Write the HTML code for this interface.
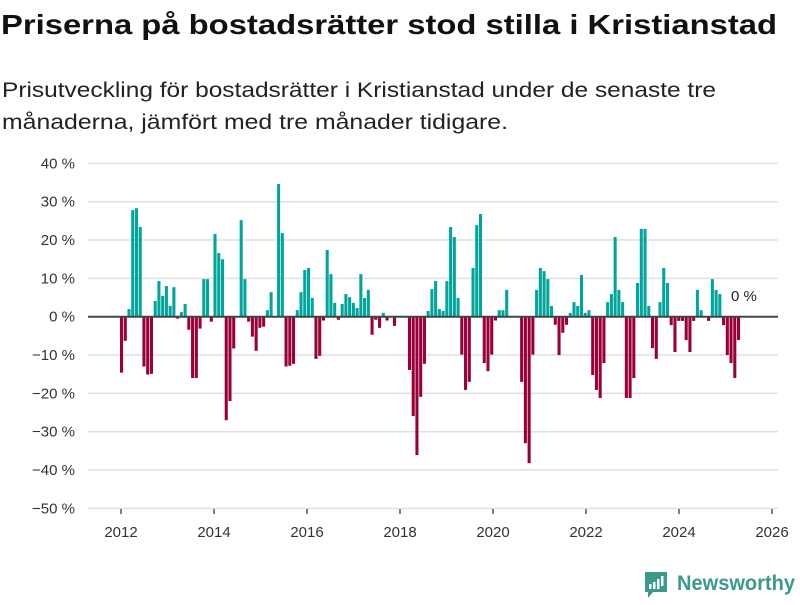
<!DOCTYPE html>
<html><head><meta charset="utf-8">
<style>
html,body{margin:0;padding:0;background:#fff;}
svg text{font-family:"Liberation Sans","DejaVu Sans",sans-serif;}
</style></head>
<body>
<svg id="chart" width="800" height="600" xmlns="http://www.w3.org/2000/svg">
<text x="1" y="34" font-size="28" font-weight="bold" fill="#111" textLength="776" lengthAdjust="spacingAndGlyphs">Priserna på bostadsrätter stod stilla i Kristianstad</text>
<text x="2" y="97" font-size="21" fill="#222" textLength="714" lengthAdjust="spacingAndGlyphs">Prisutveckling för bostadsrätter i Kristianstad under de senaste tre</text>
<text x="2" y="129" font-size="21" fill="#222" textLength="506" lengthAdjust="spacingAndGlyphs">månaderna, jämfört med tre månader tidigare.</text>
<g id="grid"></g>
<g id="yticks"></g>
<g id="xticks"></g>
<g id="bars"></g>
<line x1="88" x2="778" y1="316.7" y2="316.7" stroke="#444" stroke-width="2"/>
<text x="731" y="301" font-size="15" fill="#222">0 %</text>
<g>
<path d="M645 572 h22 v20 h-14 l-5 6 v-6 h-3 z" fill="#3a9a8c"/>
<rect x="649" y="584" width="2.5" height="5" fill="#fff"/>
<rect x="653" y="582" width="2.5" height="7" fill="#fff"/>
<rect x="657" y="579" width="2.5" height="10" fill="#fff"/>
<rect x="661" y="576" width="2.5" height="10" fill="#fff"/>
<text x="677" y="590" font-size="21" font-weight="bold" fill="#3a9a8c" textLength="118" lengthAdjust="spacingAndGlyphs">Newsworthy</text>
</g>
</svg>
<script>
const values = [-14.6,-6.3,2,27.8,28.3,23.4,-13,-15.1,-14.9,4.1,9.3,5.4,8,2.8,7.7,-0.5,1.2,3.3,-3.4,-16,-16,-3.1,9.8,9.8,-1.3,21.6,16.6,15,-27,-22,-8.3,0,25.2,9.8,-1.3,-5.2,-8.9,-2.9,-2.6,1.7,6.4,
0,34.6,21.8,-13,-12.8,-12.3,1.7,6.4,12.2,12.7,4.9,-11,-10.2,-1,17.4,11.1,3.6,-0.8,3.3,5.9,5.1,3.6,2.3,11.1,4.9,7,-4.7,-0.8,-2.9,1,-1,0,-2.4,
0,0,0,
-13.9,-25.9,-36.1,-20.9,-12.3,1.5,7.2,9.3,2,1.5,9.3,23.4,20.8,4.9,-9.9,-19.1,-17,12.7,23.9,26.8,-12.1,-14.2,-9.9,-1,1.7,1.7,7,0,0,0,-17,-33,-38.2,-9.9,7,12.7,11.9,9.8,2.8,-2.1,
-10,-4.2,-2.1,1,3.8,2.8,10.9,1,1.7,-15.2,-19.1,-21.2,-12.1,3.8,5.9,20.8,7,3.8,-21.2,-21.2,-16,8.8,22.9,22.9,2.8,-8.2,-11,3.8,12.7,8.8,-2.2,-9.2,-1.1,-1.1,-6.1,-9.2,-1.1,7,1.7,0,-1.1,9.8,7,5.9,-2.2,-10,-12.1,-16,-6.1];
const yTicks = [40,30,20,10,0,-10,-20,-30,-40,-50];
const yTickLabels = ["40 %","30 %","20 %","10 %","0 %","−10 %","−20 %","−30 %","−40 %","−50 %"];
const xYears = [2012,2014,2016,2018,2020,2022,2024,2026];

const NS="http://www.w3.org/2000/svg";
function y(v){ return 316.7 - v*3.833; }
function xYear(yr){ return 121 + (yr-2012)*46.5; }
const n = values.length;
const step = (737-120)/(n-1);
function xIdx(i){ return 120 + i*step; }

const grid=document.getElementById('grid'), yt=document.getElementById('yticks'), xt=document.getElementById('xticks'), bars=document.getElementById('bars');
yTicks.forEach((t,k)=>{
  const l=document.createElementNS(NS,'line');
  
  
  l.setAttribute('x1',88);l.setAttribute('x2',778);
  l.setAttribute('y1',y(t));l.setAttribute('y2',y(t));
  l.setAttribute('stroke','#e0e0e0');l.setAttribute('stroke-width','1.5');
  grid.appendChild(l);
  const tx=document.createElementNS(NS,'text');
  
  
  tx.setAttribute('x',75);tx.setAttribute('y',y(t)+5);
  tx.setAttribute('text-anchor','end');tx.setAttribute('font-size','15');tx.setAttribute('fill','#333');
  tx.textContent=yTickLabels[k];
  yt.appendChild(tx);
});
xYears.forEach(yr=>{
  const x=xYear(yr);
  const tk=document.createElementNS(NS,'line');
  
  
  tk.setAttribute('x1',x);tk.setAttribute('x2',x);tk.setAttribute('y1',509);tk.setAttribute('y2',514);
  tk.setAttribute('stroke','#555');tk.setAttribute('stroke-width','1.5');
  xt.appendChild(tk);
  const tx=document.createElementNS(NS,'text');
  
  
  tx.setAttribute('x',x);tx.setAttribute('y',537);
  tx.setAttribute('text-anchor','middle');tx.setAttribute('font-size','15');tx.setAttribute('fill','#333');
  tx.textContent=yr;
  xt.appendChild(tx);
});
values.forEach((v,i)=>{
  if(v===0) return;
  const r=document.createElementNS(NS,'rect');
  
  
  const y0=y(0), y1=y(v);
  r.setAttribute('x',xIdx(i));r.setAttribute('width',step*0.82);
  r.setAttribute('y',Math.min(y0,y1));r.setAttribute('height',Math.abs(y1-y0));
  r.setAttribute('fill',v>0?'#00a59b':'#99003a');
  bars.appendChild(r);
});
</script>
</body></html>
